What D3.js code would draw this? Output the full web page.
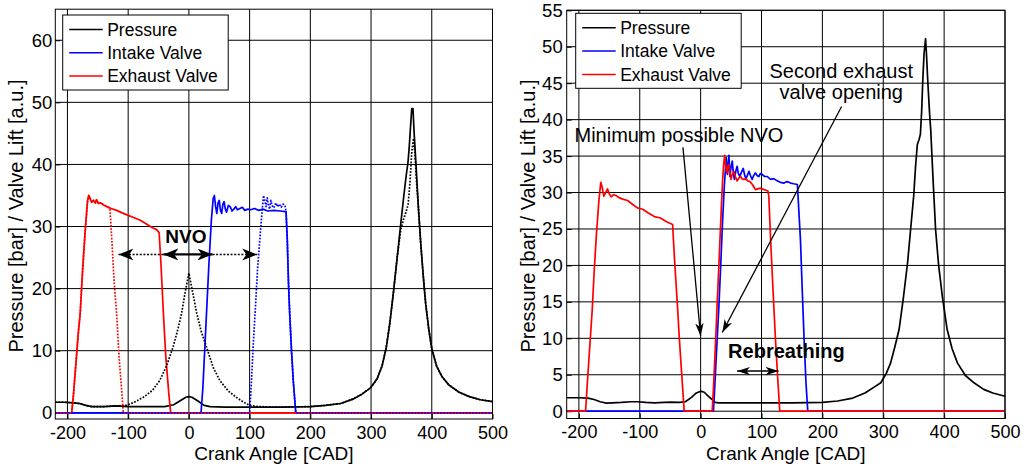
<!DOCTYPE html>
<html>
<head>
<meta charset="utf-8">
<script src="https://cdn.jsdelivr.net/npm/d3@7/dist/d3.min.js"></script>
<style>
  body { margin: 0; background: #fff; }
  svg { display: block; font-family: "Liberation Sans", Arial, sans-serif; }
</style>
</head>
<body>
<svg id="chart" width="1029" height="468"></svg>
<script>
// ---- data (crank angle [CAD], value) ----
const xTicks = [-200, -100, 0, 100, 200, 300, 400, 500];
const yTicksLeft = [0, 10, 20, 30, 40, 50, 60];
const yTicksRight = [0, 5, 10, 15, 20, 25, 30, 35, 40, 45, 50, 55];
const legendLabels = ["Pressure", "Intake Valve", "Exhaust Valve"];
const legendColors = ["#000", "#0000ff", "#ff0000"];

// left panel, solid = NVO case, dotted = reference case
const pressureLeft = [[-220,1.7],[-205,1.7],[-190,1.6],[-180,1.5],[-170,1.2],[-160,1.0],[-140,1.0],[-120,1.1],[-100,1.0],[-80,1.0],[-60,1.0],[-40,1.0],[-25,1.3],[-15,1.9],[-5,2.5],[0,2.6],[5,2.5],[15,1.9],[25,1.2],[35,1.0],[60,0.9],[100,0.9],[150,0.9],[200,1.0],[225,1.2],[250,1.5],[270,2.2],[285,3.0],[300,4.1],[310,5.5],[318,7.5],[325,10.5],[331,14.5],[337,19.5],[343,25],[349,30.5],[354,35],[358,38.3],[361,40.5],[363,43],[365,46],[367,49],[369,49],[371,45],[374,40],[378,33],[382,27],[386,22],[390,17.5],[395,13.5],[400,10.3],[408,7.5],[417,5.8],[428,4.5],[445,3.3],[462,2.6],[480,2.1],[500,1.8]];
const pressureLeftRef = [[-220,1.7],[-205,1.7],[-190,1.6],[-180,1.5],[-170,1.2],[-160,1.0],[-140,1.0],[-120,1.1],[-103,1.2],[-90,1.7],[-75,2.5],[-60,3.6],[-48,5.2],[-37,7.5],[-26,10.6],[-18,13.5],[-12,16],[-6,19.5],[0,22.5],[6,19.5],[13,16],[20,13.2],[29,10.6],[40,7.3],[51,5.2],[65,3.5],[78,2.5],[90,1.7],[100,1.2],[115,1.0],[150,0.9],[200,1.0],[225,1.2],[250,1.5],[270,2.2],[285,3.0],[300,4.1],[310,5.5],[318,7.5],[325,10.5],[331,14.5],[337,19.5],[343,25],[349,29.5],[354,31.3],[358,32.5],[361,33.5],[364,37],[367,42],[370,44.2],[372,42],[375,37],[378,33],[382,27],[386,22],[390,17.5],[395,13.5],[400,10.3],[408,7.5],[417,5.8],[428,4.5],[445,3.3],[462,2.6],[480,2.1],[500,1.8]];
const exhaustLeft = [[-220,0],[-193,0],[-190,3],[-186,8],[-182,13],[-179,16],[-175,23],[-171,29],[-167,34],[-165,35],[-163,34.6],[-160,33.9],[-157,34.2],[-154,33.8],[-152,34.3],[-149,33.7],[-145,33.8],[-141,33.5],[-135,33.2],[-128,32.9],[-119,32.6],[-110,32.2],[-100,31.8],[-92,31.5],[-80,31.0],[-70,30.4],[-60,29.8],[-53,29.5],[-49,29.0],[-46,24],[-42,16],[-38,9],[-33,3],[-30,0],[500,0]];
const exhaustLeftRef = [[-220,0],[-193,0],[-190,3],[-186,8],[-182,13],[-179,16],[-175,23],[-171,29],[-167,34],[-165,35],[-163,34.6],[-160,33.9],[-157,34.2],[-154,33.8],[-152,34.3],[-149,33.7],[-145,33.8],[-141,33.5],[-135,33.2],[-130,32.9],[-127,28],[-123,21],[-119,16],[-115,9],[-111,4],[-108,0],[500,0]];
const intakeLeft = [[-220,0],[20,0],[23,4],[26,10],[29,16],[33,24],[37,31],[40,34.5],[42,35],[44,33.2],[46,32.1],[48,33.8],[50,34.2],[52,32.6],[54,32.1],[56,33.6],[58,34.0],[60,32.8],[62,32.3],[65,33.4],[68,33.2],[71,32.5],[74,32.8],[77,33.2],[80,32.7],[84,32.9],[88,33.1],[92,32.6],[97,32.8],[102,32.7],[108,32.9],[115,32.6],[122,32.8],[130,32.5],[140,32.6],[150,32.5],[160,32.4],[162,28],[164,21],[166,16],[169,10],[172,5],[176,0],[500,0]];
const intakeLeftRef = [[-220,0],[100,0],[103,5],[106,11],[109,16],[113,23],[118,29.4],[121,33],[123,35],[125,34.2],[127,33.2],[129,34.6],[131,33.5],[133,32.8],[135,34.2],[137,33.4],[140,33.0],[143,33.8],[146,33.2],[149,33.6],[152,33.1],[155,33.6],[158,33.5],[160,32.4],[162,28],[164,21],[166,16],[169,10],[172,5],[176,0],[500,0]];

// right panel, rebreathing case
const pressureRight = [[-220,1.85],[-200,1.85],[-185,1.8],[-175,1.6],[-165,1.3],[-155,1.1],[-145,1.15],[-130,1.2],[-115,1.3],[-104,1.3],[-90,1.2],[-76,1.15],[-60,1.2],[-49,1.25],[-35,1.2],[-25,1.3],[-15,1.9],[-7,2.5],[0,2.75],[6,2.6],[12,2.1],[19,1.6],[24,1.2],[30,1.15],[60,1.15],[100,1.15],[150,1.15],[200,1.2],[225,1.4],[250,1.8],[270,2.5],[285,3.3],[296,3.9],[305,5.2],[312,6.6],[319,8.8],[326,11.2],[333,15.5],[340,20.4],[345,25],[350,29.5],[353,33.5],[356,36.6],[359,37.3],[361,38],[363,41],[365,45.5],[367,49],[369.5,51.1],[371,49],[373,45.5],[376,41],[378,38.6],[382,31.5],[386,24.9],[391,20],[397,15.8],[405,11.2],[413,8.6],[422,6.6],[435,4.9],[449,3.9],[465,3.0],[480,2.5],[500,2.05]];
const exhaustRight = [[-220,0],[-189,0],[-186,4],[-182,9],[-178,14],[-175,19],[-171,24.5],[-167,29],[-164,31.4],[-162,30.8],[-159,29.5],[-156,30.0],[-153,30.5],[-150,29.8],[-147,29.4],[-143,29.7],[-139,29.6],[-134,29.3],[-128,29.1],[-120,28.9],[-112,28.4],[-104,27.9],[-95,27.7],[-86,27.2],[-76,26.7],[-66,26.5],[-56,26.0],[-46,25.6],[-43,21],[-40,17],[-38,14.4],[-35,10],[-31,5],[-27,0],[19,0],[21,3],[24,8.5],[27,14.4],[30,20],[33,26],[36,31.5],[38,34],[39.5,35.1],[41,33.8],[42.7,32.7],[44.5,33.5],[46.5,33.8],[48,32.8],[50,31.8],[52,32.5],[54.7,32.9],[57,32.2],[60,31.6],[63,32.0],[65.7,32.2],[68,31.9],[71,31.8],[74,31.9],[77.4,31.6],[81,31.5],[85,31.1],[88,30.7],[90,30.4],[94,30.5],[98.6,30.6],[104,30.4],[110.6,30.2],[112,29.5],[115,23.5],[119,16.5],[123,9.8],[127,4],[130,0],[500,0]];
const intakeRight = [[-220,0],[21,0],[23,3],[26,8],[30,14.4],[33,20],[36,26],[39,31],[41,33.5],[42,34.8],[44,32.5],[46.5,35.1],[48,32.2],[50,33.5],[52,34.3],[54,32.5],[55.5,31.8],[58,33],[60,33.6],[62,32.6],[64.6,32.2],[67,32.8],[70,33.3],[72,32.5],[74.4,31.8],[77,32.4],[79.4,32.9],[82,32.3],[84.6,31.8],[87,32.3],[90,32.7],[93,32.3],[95.6,32.2],[98,32.6],[101,32.5],[105,32.2],[109.5,32.2],[112,32.0],[115,31.8],[120,31.9],[126,31.6],[131,31.4],[137,31.3],[142,31.5],[148,31.3],[153,31.2],[159,31.1],[161,28],[164,23.5],[167,16.5],[170,9.8],[173,4],[176,0],[500,0]];

const svg = d3.select("#chart");

// arrow heads (MATLAB vback2 look)
const defs = svg.append("defs");
[["headBig", 15, 6], ["headSmall", 13, 4.2]].forEach(([id, len, half]) => {
  defs
    .append("marker")
    .attr("id", id)
    .attr("viewBox", `${-len} ${-half - 1} ${len + 1} ${2 * half + 2}`)
    .attr("refX", 0)
    .attr("refY", 0)
    .attr("markerUnits", "userSpaceOnUse")
    .attr("markerWidth", len + 1)
    .attr("markerHeight", 2 * half + 2)
    .attr("orient", "auto-start-reverse")
    .append("path")
    .attr("d", `M0,0 L${-len},${-half} L${-len * 0.72},0 L${-len},${half} Z`)
    .attr("fill", "#000");
});

function drawPanel(cfg) {
  const x = d3.scaleLinear().domain([-220, 500]).range(cfg.xRange);
  const y = d3.scaleLinear().domain(cfg.yDomain).range(cfg.yRange);
  const [x0, x1] = cfg.xRange;
  const [y0, y1] = cfg.yRange;
  const g = svg.append("g");

  // grid
  g.append("g")
    .selectAll("line")
    .data(xTicks)
    .join("line")
    .attr("x1", (d) => x(d))
    .attr("x2", (d) => x(d))
    .attr("y1", y0)
    .attr("y2", y1)
    .attr("stroke", "#000")
    .attr("stroke-width", 1);
  g.append("g")
    .selectAll("line")
    .data(cfg.yTicks)
    .join("line")
    .attr("x1", x0)
    .attr("x2", x1)
    .attr("y1", (d) => y(d))
    .attr("y2", (d) => y(d))
    .attr("stroke", "#000")
    .attr("stroke-width", 1);

  // axes
  const xAxis = g
    .append("g")
    .attr("transform", `translate(0,${y0})`)
    .call(d3.axisBottom(x).tickValues(xTicks).tickSizeInner(-5).tickSizeOuter(0).tickPadding(7));
  const yAxis = g
    .append("g")
    .attr("transform", `translate(${x0},0)`)
    .call(d3.axisLeft(y).tickValues(cfg.yTicks).tickSizeInner(-5).tickSizeOuter(0).tickPadding(cfg.yPad));
  [xAxis, yAxis].forEach((a) => {
    a.select(".domain").remove();
    a.selectAll("text")
      .attr("font-family", "Liberation Sans, Arial, sans-serif")
      .attr("font-size", 18.5)
      .attr("fill", "#000");
  });
  xAxis.selectAll("text").attr("font-size", 18).text((d) => (d < 0 ? "-" + Math.abs(d) : d));

  // series
  const line = d3
    .line()
    .x((d) => x(d[0]))
    .y((d) => y(d[1]));
  g.append("g")
    .attr("fill", "none")
    .attr("stroke-linejoin", "round")
    .selectAll("path")
    .data(cfg.series)
    .join("path")
    .attr("d", (d) => line(d.values))
    .attr("stroke", (d) => d.color)
    .attr("stroke-width", (d) => (d.dotted ? 1.7 : 1.7))
    .attr("stroke-dasharray", (d) => (d.dotted ? "1.7,1.5" : null));

  // annotation arrows
  g.append("g")
    .selectAll("line")
    .data(cfg.arrows)
    .join("line")
    .attr("x1", (d) => x(d.from[0]))
    .attr("y1", (d) => y(d.from[1]))
    .attr("x2", (d) => x(d.to[0]))
    .attr("y2", (d) => y(d.to[1]))
    .attr("stroke", "#000")
    .attr("stroke-width", (d) => d.width)
    .attr("stroke-dasharray", (d) => (d.dotted ? "2,1.6" : null))
    .attr("marker-end", (d) => `url(#${d.head})`)
    .attr("marker-start", (d) => (d.both ? `url(#${d.head})` : null));

  g.append("g")
    .selectAll("text")
    .data(cfg.notes)
    .join("text")
    .attr("x", (d) => x(d.at[0]))
    .attr("y", (d) => y(d.at[1]))
    .attr("text-anchor", "middle")
    .attr("font-size", (d) => d.size)
    .attr("font-weight", (d) => (d.bold ? "bold" : "normal"))
    .text((d) => d.text);

  // frame
  g.append("rect")
    .attr("x", x0)
    .attr("y", y1)
    .attr("width", x1 - x0)
    .attr("height", y0 - y1)
    .attr("fill", "none")
    .attr("stroke", "#000")
    .attr("stroke-width", 1);

  // legend
  const lg = g.append("g").attr("transform", `translate(${cfg.legend[0]},${cfg.legend[1]})`);
  lg.append("rect")
    .attr("width", 165.5)
    .attr("height", 75)
    .attr("fill", "#fff")
    .attr("stroke", "#000")
    .attr("stroke-width", 1);
  const rows = lg
    .selectAll("g")
    .data(legendLabels)
    .join("g")
    .attr("transform", (d, i) => `translate(0,${14.5 + i * 23.3})`);
  rows
    .append("line")
    .attr("x1", 6.5)
    .attr("x2", 40)
    .attr("stroke", (d, i) => legendColors[i])
    .attr("stroke-width", 1.5);
  rows
    .append("text")
    .attr("x", 44.5)
    .attr("dy", "0.35em")
    .attr("font-size", 17.5)
    .text((d) => d);

  // axis titles
  g.append("text")
    .attr("x", (x0 + x1) / 2)
    .attr("y", 460)
    .attr("text-anchor", "middle")
    .attr("font-size", 19)
    .text("Crank Angle [CAD]");
  g.append("text")
    .attr("transform", `translate(${cfg.yLabelX},216) rotate(-90)`)
    .attr("dy", "0.35em")
    .attr("text-anchor", "middle")
    .attr("font-size", 20)
    .text("Pressure [bar] / Valve Lift [a.u.]");
}

drawPanel({
  xRange: [55.3, 492.5],
  yRange: [419, 9.2],
  yDomain: [-1, 65],
  yTicks: yTicksLeft,
  yPad: 3,
  yLabelX: 15.5,
  legend: [62.7, 15],
  series: [
    { values: pressureLeft, color: "#000" },
    { values: intakeLeft, color: "#0000ff" },
    { values: exhaustLeft, color: "#ff0000" },
    { values: pressureLeftRef, color: "#000", dotted: true },
    { values: exhaustLeftRef, color: "#ff0000", dotted: true },
    { values: intakeLeftRef, color: "#0000ff", dotted: true },
  ],
  arrows: [
    { from: [-42, 25.5], to: [-116, 25.5], head: "headBig", width: 1.6, dotted: true },
    { from: [-42, 25.5], to: [39, 25.5], head: "headBig", width: 2.2, both: true },
    { from: [39, 25.5], to: [112.5, 25.5], head: "headBig", width: 1.6, dotted: true },
  ],
  notes: [{ text: "NVO", at: [-5, 27.3], size: 19, bold: true }],
});

drawPanel({
  xRange: [566.7, 1005],
  yRange: [418.5, 10.3],
  yDomain: [-1, 55],
  yTicks: yTicksRight,
  yPad: 4,
  yLabelX: 527.5,
  legend: [575.7, 13.3],
  series: [
    { values: pressureRight, color: "#000" },
    { values: intakeRight, color: "#0000ff" },
    { values: exhaustRight, color: "#ff0000" },
  ],
  arrows: [
    { from: [-29, 36.2], to: [0, 10.3], head: "headSmall", width: 1.3 },
    { from: [231.6, 41.8], to: [35.6, 10.8], head: "headSmall", width: 1.3 },
    { from: [60, 5.5], to: [128, 5.5], head: "headSmall", width: 1.5, both: true },
  ],
  notes: [
    { text: "Minimum possible NVO", at: [-35.6, 37], size: 20 },
    { text: "Second exhaust", at: [231, 45.7], size: 20 },
    { text: "valve opening", at: [231, 42.8], size: 20 },
    { text: "Rebreathing", at: [141, 7.3], size: 20, bold: true },
  ],
});
</script>
</body>
</html>
